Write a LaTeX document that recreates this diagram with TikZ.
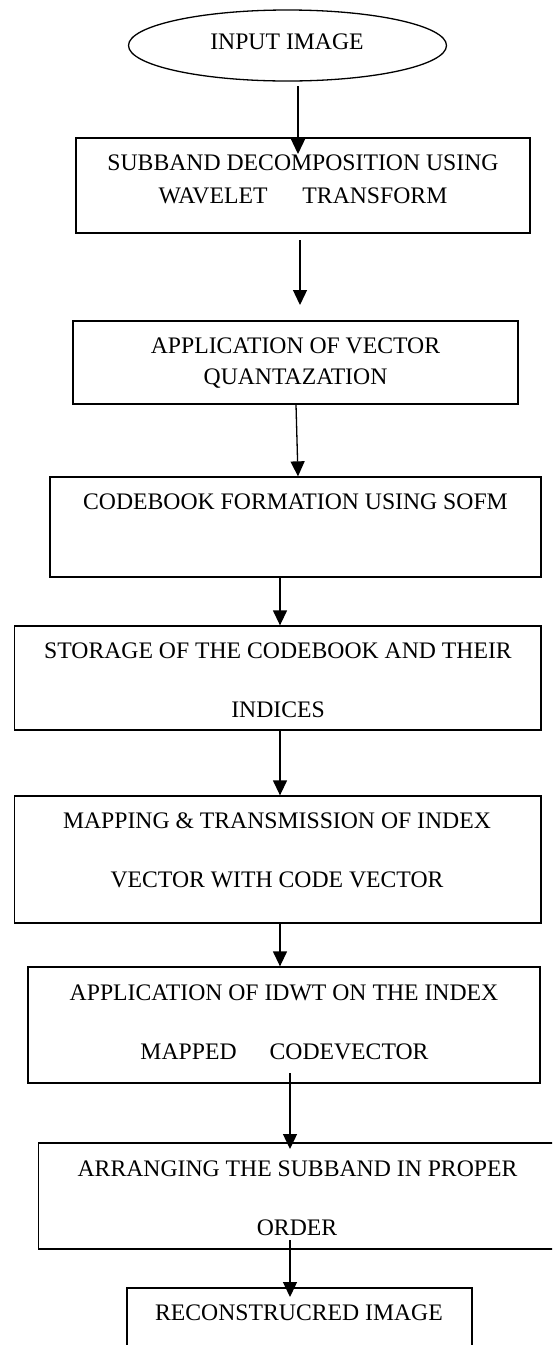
\documentclass[tikz,border=0pt]{standalone}
\usepackage{fontspec}
\setmainfont{Liberation Serif}
\usetikzlibrary{arrows.meta,shapes.geometric}
\begin{document}
\begin{tikzpicture}[x=1pt,y=-1pt,
  box/.style={draw,line width=1.3pt,rectangle,inner sep=0pt},
  txt/.style={anchor=base,inner sep=0pt,font=\fontsize{23.7}{28}\selectfont},
  arr/.style={line width=1.3pt,-{Triangle[length=15pt,width=14pt]}}]
\clip (0,0) rectangle (552,1345);
\fill[white] (0,0) rectangle (552,1345);
% shapes
\node[draw,ellipse,line width=1.3pt,inner sep=0pt,minimum width=318pt,minimum height=71pt] (in) at (287.5,45.5) {};
\node[box,minimum width=454pt,minimum height=95pt] (b1) at (303,185.5) {};
\node[box,minimum width=445pt,minimum height=83pt] (b2) at (295.5,362.5) {};
\node[box,minimum width=491pt,minimum height=100pt] (b3) at (295.5,527) {};
\node[box,minimum width=526.6pt,minimum height=104pt] (b4) at (277.7,678) {};
\node[box,minimum width=526.6pt,minimum height=127pt] (b5) at (277.7,859.5) {};
\node[box,minimum width=512pt,minimum height=116pt] (b6) at (284,1025) {};
\node[box,minimum width=517.3pt,minimum height=106pt] (b7) at (297.35,1196) {};
\node[box,minimum width=345pt,minimum height=82pt] (b8) at (299.5,1329) {};
% texts
\node[txt] (t0) at (287,49) {INPUT IMAGE};
\node[txt] (t1a) at (303,170) {SUBBAND DECOMPOSITION USING};
\node[txt] (t1b) at (303,203) {WAVELET\hspace{35pt}TRANSFORM};
\node[txt] (t2a) at (295.5,353) {APPLICATION OF VECTOR};
\node[txt] (t2b) at (295.5,384) {QUANTAZATION};
\node[txt] (t3) at (295.5,509) {CODEBOOK FORMATION USING SOFM};
\node[txt] (t4a) at (278,658) {STORAGE OF THE CODEBOOK AND THEIR};
\node[txt] (t4b) at (278,717) {INDICES};
\node[txt] (t5a) at (277,828) {MAPPING \& TRANSMISSION OF INDEX};
\node[txt] (t5b) at (277,887) {VECTOR WITH CODE VECTOR};
\node[txt] (t6a) at (284,1000) {APPLICATION OF IDWT ON THE INDEX};
\node[txt] (t6b) at (284.5,1059) {MAPPED\hspace{33pt}CODEVECTOR};
\node[txt] (t7a) at (297.5,1176) {ARRANGING THE SUBBAND IN PROPER};
\node[txt] (t7b) at (297,1235) {ORDER};
\node[txt] (t8) at (299,1320) {RECONSTRUCRED IMAGE};
% connector coordinates
\coordinate (s1) at (298,86);   \coordinate (e1) at (298,154);
\coordinate (s2) at (300,240);  \coordinate (e2) at (300,305);
\coordinate (x3s) at (296,0);   \coordinate (x3e) at (298,0);
\coordinate (x4) at (280,0);
\coordinate (s7) at (290,1073); \coordinate (e7) at (290,1149);
\coordinate (s8) at (290,1240); \coordinate (e8) at (290,1297);
% connectors
\draw[arr] (s1) -- (e1);
\draw[arr] (s2) -- (e2);
\draw[arr] (x3s |- b2.south) -- (x3e |- b3.north);
\draw[arr] (x4 |- b3.south) -- (x4 |- b4.north);
\draw[arr] (x4 |- b4.south) -- (x4 |- b5.north);
\draw[arr] (x4 |- b5.south) -- (x4 |- b6.north);
\draw[arr] (s7) -- (e7);
\draw[arr] (s8) -- (e8);
\end{tikzpicture}
\end{document}
